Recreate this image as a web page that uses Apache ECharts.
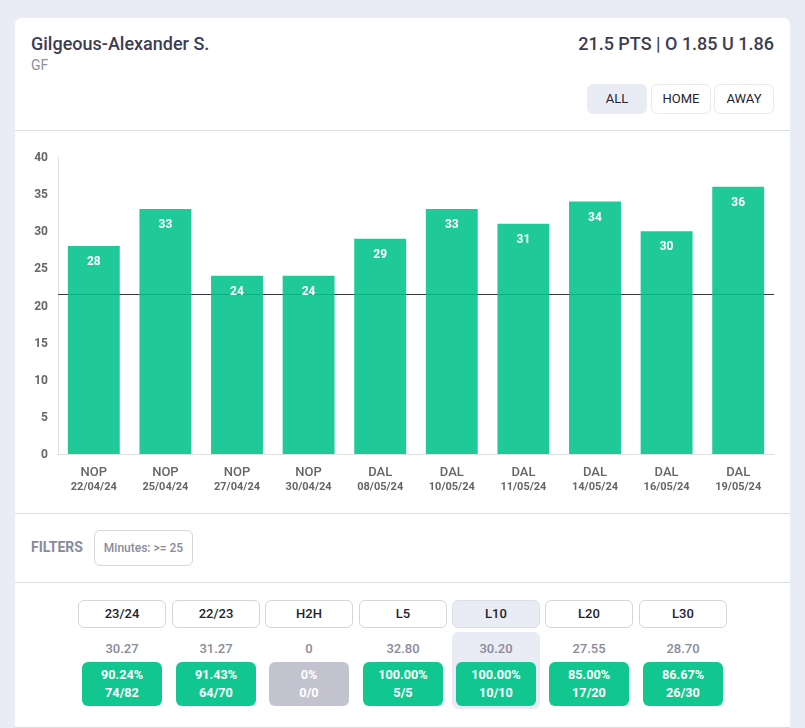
<!DOCTYPE html>
<html><head><meta charset="utf-8">
<script src="https://cdn.jsdelivr.net/npm/echarts@6/dist/echarts.min.js"></script>
<style>
html,body{margin:0;padding:0;width:805px;height:728px;overflow:hidden;background:#e9ecf5;font-family:Roboto,sans-serif}
.abs{position:absolute;white-space:nowrap}
#card{position:absolute;left:15px;top:18px;width:775px;height:709px;background:#fff;border-radius:6px 6px 0 0}
.hr{position:absolute;left:15px;width:775px;height:1px;background:#dcdde1}
.btn{position:absolute;box-sizing:border-box;border:1px solid #e9eaee;border-radius:6px;text-align:center;color:#23232f;font-weight:400;background:#fff}
.btn.on{background:#e9ecf5;border-color:#e9ecf5}
.tab{top:600px;width:88px;height:28px;line-height:26px;font-size:13px;font-weight:500;border-color:#d5d6db}
.tab.on{border-color:#dcdee8}
.avg{position:absolute;top:641px;width:88px;text-align:center;font-size:13px;font-weight:500;color:#8a8a9c;line-height:16px}
.pill{position:absolute;top:662px;width:80px;height:44px;border-radius:6px;background:#12c78f;color:#fff;text-align:center;font-size:12.7px;font-weight:700;line-height:17.5px;padding-top:4px;box-sizing:border-box}
.pill.none{background:#c2c3cf}
#hl{position:absolute;left:452px;top:632px;width:88px;height:77px;background:#e9ecf5;border-radius:6px}
#chart{position:absolute;left:15px;top:131px;width:775px;height:382px}
</style></head><body>
<div id="card"></div>
<div class="abs" style="left:31px;top:33px;font-size:18px;font-weight:500;color:#3d3d52;line-height:22px">Gilgeous-Alexander S.</div>
<div class="abs" style="left:31px;top:57px;font-size:14px;color:#8f8fa3;line-height:17px">GF</div>
<div class="abs" style="right:31px;top:33px;font-size:18px;font-weight:500;color:#3d3d52;line-height:22px">21.5 PTS | O 1.85 U 1.86</div>
<div class="btn on" style="left:587px;top:84px;width:60px;height:30px;line-height:28px;font-size:13px">ALL</div>
<div class="btn" style="left:651px;top:84px;width:60px;height:30px;line-height:28px;font-size:13px">HOME</div>
<div class="btn" style="left:714px;top:84px;width:60px;height:30px;line-height:28px;font-size:13px">AWAY</div>
<div class="hr" style="top:130px"></div>
<div id="chart"></div>
<div class="hr" style="top:513px"></div>
<div class="abs" style="left:31px;top:539px;font-size:14px;font-weight:700;color:#8a8a9c;line-height:16px">FILTERS</div>
<div class="btn" style="left:94px;top:530px;width:99px;height:36px;line-height:34px;font-size:12px;font-weight:500;color:#8a8a9c;border-color:#d5d6db">Minutes: &gt;= 25</div>
<div class="hr" style="top:582px"></div>
<div id="hl"></div>
<div id="table"></div>
<div class="hr" style="top:727px"></div>
<script>
var teams = ['NOP','NOP','NOP','NOP','DAL','DAL','DAL','DAL','DAL','DAL'];
var dates = ['22/04/24','25/04/24','27/04/24','30/04/24','08/05/24','10/05/24','11/05/24','14/05/24','16/05/24','19/05/24'];
var points = [28,33,24,24,29,33,31,34,30,36];
var propLine = 21.5;
var yMax = 40;
var yStep = 5;
var tabNames = ['23/24','22/23','H2H','L5','L10','L20','L30'];
var tabAverages = ['30.27','31.27','0','32.80','30.20','27.55','28.70'];
var tabPercents = ['90.24%','91.43%','0%','100.00%','100.00%','85.00%','86.67%'];
var tabCounts = ['74/82','64/70','0/0','5/5','10/10','17/20','26/30'];
var activeTab = 'L10';

var tabLefts = [78,172,265,359,452,545,639];
var html = '';
tabNames.forEach(function(n,i){
  var x = tabLefts[i];
  html += '<div class="btn tab'+(n===activeTab?' on':'')+'" style="left:'+x+'px">'+n+'</div>';
  html += '<div class="avg" style="left:'+x+'px">'+tabAverages[i]+'</div>';
  html += '<div class="pill'+(tabCounts[i]==='0/0'?' none':'')+'" style="left:'+(x+4)+'px">'+tabPercents[i]+'<br>'+tabCounts[i]+'</div>';
});
document.getElementById('table').innerHTML = html;

var chart = echarts.init(document.getElementById('chart'), null, {renderer:'canvas'});
chart.setOption({
  animation:false,
  textStyle:{fontFamily:'Roboto'},
  grid:{left:43,right:16,top:26,bottom:59,containLabel:false},
  xAxis:{
    type:'category',
    data:teams.map(function(t,i){return '{t|'+t+'}\n{d|'+dates[i]+'}';}),
    axisLine:{lineStyle:{color:'#dfe0e4',width:1}},
    axisTick:{show:false},
    axisLabel:{margin:12,interval:0,fontFamily:'Roboto',
      rich:{
        t:{color:'#666',fontSize:13,fontWeight:500,lineHeight:14,fontFamily:'Roboto'},
        d:{color:'#666',fontSize:11,fontWeight:700,lineHeight:14,fontFamily:'Roboto'}
      }}
  },
  yAxis:{
    type:'value',min:0,max:yMax,interval:yStep,
    splitLine:{show:false},
    axisTick:{show:false},
    axisLine:{show:true,lineStyle:{color:'#dfe0e4',width:1}},
    axisLabel:{margin:10,formatter:'{a|{value}}',fontFamily:'Roboto',
      rich:{a:{color:'#666',fontSize:12,fontWeight:700,fontFamily:'Roboto',padding:[2,0,0,0]}}}
  },
  series:[
    {type:'bar',data:points,barWidth:'72.5%',z:3,
      itemStyle:{color:'rgba(0,195,138,0.88)'},
      label:{show:true,position:'insideTop',distance:10,color:'#fff',fontSize:12,fontWeight:700,fontFamily:'Roboto'}},
    {type:'scatter',data:[],z:1,silent:true,
      markLine:{silent:true,symbol:'none',animation:false,z:1,label:{show:false},
        lineStyle:{color:'#3a3a44',width:1,type:'solid'},
        data:[{yAxis:propLine}]}}
  ]
});
</script>
</body></html>
